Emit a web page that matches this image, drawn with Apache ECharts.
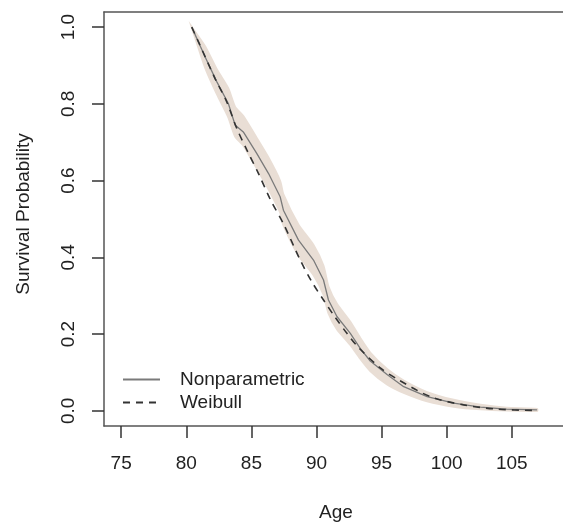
<!DOCTYPE html>
<html>
<head>
<meta charset="utf-8">
<script src="https://cdn.jsdelivr.net/npm/echarts@6/dist/echarts.min.js"></script>
<style>
html,body{margin:0;padding:0;background:#fff;overflow:hidden;}
#chart{width:563px;height:523px;}
</style>
</head>
<body>
<div id="chart"></div>
<script>
// Nonparametric (Kaplan-Meier) estimate
const npAge = [80.42, 81.44, 82.34, 83.23, 83.75, 84.38, 85.41, 86.31, 87.21, 87.46, 88.62, 89.77, 90.54, 90.92, 91.57, 92.6, 93.36, 94.13, 95.42, 96.7, 98.5, 100.54, 102.6, 104.6, 106.95];
const npSurv = [1.0, 0.923, 0.858, 0.801, 0.745, 0.727, 0.671, 0.619, 0.558, 0.523, 0.445, 0.393, 0.341, 0.289, 0.246, 0.202, 0.163, 0.13, 0.095, 0.063, 0.037, 0.02, 0.0096, 0.0044, 0.0026];
// Confidence band around the nonparametric estimate
const bandLow = [1.0, 0.895, 0.826, 0.765, 0.715, 0.692, 0.632, 0.578, 0.517, 0.484, 0.405, 0.354, 0.303, 0.255, 0.213, 0.172, 0.136, 0.104, 0.069, 0.047, 0.025, 0.011, 0.004, 0.001, 0.0];
const bandHigh = [1.0, 0.950, 0.890, 0.840, 0.792, 0.768, 0.711, 0.660, 0.599, 0.564, 0.485, 0.432, 0.378, 0.324, 0.279, 0.232, 0.190, 0.152, 0.109, 0.079, 0.049, 0.029, 0.016, 0.008, 0.005];
// Weibull fit
const wbAge = [80.42, 80.93, 82.21, 83.11, 83.88, 84.65, 85.54, 86.44, 87.5, 88.75, 89.65, 90.54, 91.31, 92.34, 93.23, 94.9, 96.2, 98.75, 101.3, 103.9, 106.95];
const wbSurv = [1.0, 0.962, 0.866, 0.805, 0.736, 0.680, 0.619, 0.552, 0.485, 0.393, 0.336, 0.289, 0.250, 0.202, 0.165, 0.112, 0.083, 0.037, 0.0156, 0.0044, 0.001];
// Tick labels
const xTicks = [75, 80, 85, 90, 95, 100, 105];
const yTicks = [0, 0.2, 0.4, 0.6, 0.8, 1.0];

const FONT = "'Liberation Sans', Arial, Helvetica, sans-serif";
const chart = echarts.init(document.getElementById('chart'), null, {renderer: 'canvas'});

const npData = npAge.map((a, i) => [a, npSurv[i]]);
const wbData = wbAge.map((a, i) => [a, wbSurv[i]]);
const bandData = npAge.map((a, i) => [a, bandLow[i], bandHigh[i]]);

const boxLine = {show: true, onZero: false, lineStyle: {color: '#555', width: 1.5}};

chart.setOption({
  animation: false,
  backgroundColor: '#ffffff',
  textStyle: {fontFamily: FONT},
  grid: {left: 104, top: 12, right: -5, bottom: 97, show: false,
         containLabel: false, outerBoundsMode: 'none'},
  legend: {
    data: ['Nonparametric', 'Weibull'],
    orient: 'vertical', left: 122, top: 370, padding: 0,
    itemWidth: 37, itemHeight: 14, itemGap: 4,
    itemStyle: {color: 'rgba(0,0,0,0)', borderWidth: 0, opacity: 0},
    textStyle: {fontSize: 19, color: '#222', fontFamily: FONT, padding: [0, 0, 0, 15]}
  },
  xAxis: [{
    type: 'value', min: 73.68, max: 109.32, position: 'bottom',
    name: 'Age', nameLocation: 'middle', nameGap: 77,
    nameTextStyle: {fontSize: 19, color: '#222', fontFamily: FONT},
    axisLine: boxLine,
    axisTick: {show: true, length: 12, customValues: xTicks, lineStyle: {color: '#333', width: 1.5}},
    axisLabel: {customValues: xTicks, fontSize: 19, color: '#222', margin: 28, fontFamily: FONT},
    splitLine: {show: false}
  }, {
    type: 'value', min: 73.68, max: 109.32, position: 'top',
    axisLine: boxLine, axisTick: {show: false}, axisLabel: {show: false}, splitLine: {show: false}
  }],
  yAxis: {
    type: 'value', min: -0.0394, max: 1.0394, position: 'left',
    name: 'Survival Probability', nameLocation: 'middle', nameGap: 71,
    nameTextStyle: {fontSize: 19, color: '#222', fontFamily: FONT, padding: [0, 0, 0, 10]},
    axisLine: boxLine,
    axisTick: {show: true, length: 12, customValues: yTicks, lineStyle: {color: '#333', width: 1.5}},
    axisLabel: {customValues: yTicks, fontSize: 19, color: '#222', margin: 26, rotate: 90, fontFamily: FONT,
      formatter: v => v.toFixed(1)},
    splitLine: {show: false}
  },
  series: [
    {
      name: 'band', type: 'custom', data: bandData, z: 1,
      encode: {x: 0, y: [1, 2]},
      renderItem: function (params, api) {
        if (params.dataIndex !== 0) return null;
        const pts = [];
        for (let i = 0; i < npAge.length; i++) pts.push(api.coord([npAge[i], bandHigh[i]]));
        for (let i = npAge.length - 1; i >= 0; i--) pts.push(api.coord([npAge[i], bandLow[i]]));
        return {type: 'polygon', shape: {points: pts, smooth: 0.2}, style: {fill: '#E9DED5', stroke: '#E9DED5', lineWidth: 2}};
      },
      silent: true
    },
    {
      name: 'Nonparametric', type: 'line', data: npData, symbol: 'none', z: 3,
      lineStyle: {color: '#7a7a7a', width: 1.3}, itemStyle: {color: '#7a7a7a'}
    },
    {
      name: 'Weibull', type: 'line', data: wbData, symbol: 'none', smooth: 0.3, z: 4,
      lineStyle: {color: '#333', width: 1.6, type: [7, 6]}, itemStyle: {color: '#333'}
    }
  ]
});
</script>
</body>
</html>
